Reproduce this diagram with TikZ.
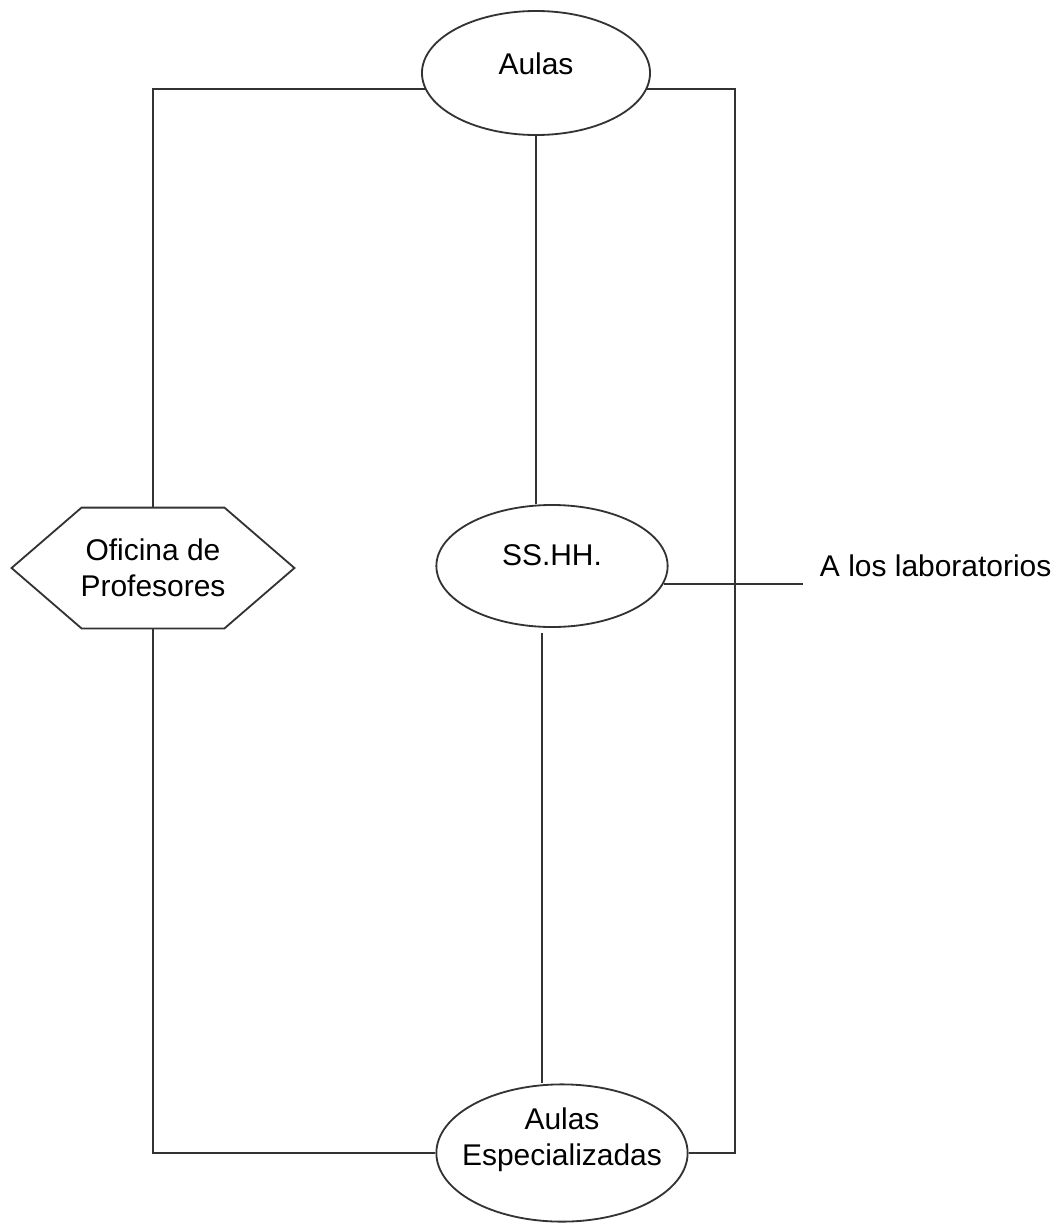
\documentclass[tikz,border=0pt]{standalone}
\usepackage{fontspec}
\setmainfont{Liberation Sans}
\usetikzlibrary{positioning}
\usetikzlibrary{shapes.geometric}
\usetikzlibrary{calc}

\begin{document}
\begin{tikzpicture}[
    x=0.025cm, y=-0.025cm,
    font=\fontsize{21.3pt}{25.6pt}\selectfont,
    room/.style = {
      draw=black!80, ellipse, line width=1.3pt,
      inner sep=0pt,
    },
    office/.style = {
      rectangle, minimum width=7.07cm, minimum height=3.02cm,
      inner sep=0pt, outer sep=0pt, align=center,
    },
    wire/.style = {draw=black!80, line width=1.3pt},
  ]
  \useasboundingbox (0,0) rectangle (1059,1230);

  \node[room, minimum width=5.7cm, minimum height=3.1cm] (aulas) at (536,73) {};
  \node (aulas-t) at ($(aulas)+(0,-9)$) {Aulas};

  \node[room, minimum width=5.78cm, minimum height=3.05cm] (sshh) at (552,566) {};
  \node (sshh-t) at ($(sshh)+(0,-11)$) {SS.HH.};

  \node[room, minimum width=6.28cm, minimum height=3.43cm] (esp) at (562,1153) {};
  \node[align=center] (esp-t) at ($(esp)+(0,-13)$) {Aulas\\Especializadas};

  \node[office] (ofi) at (153,568) {Oficina de\\Profesores};
  \draw[wire] (ofi.west) -- ($(ofi.north west)+(70,0)$)
    -- ($(ofi.north east)+(-70,0)$) -- (ofi.east)
    -- ($(ofi.south east)+(-70,0)$) -- ($(ofi.south west)+(70,0)$)
    -- cycle;

  \node[right] (lab) at (815,566) {A los laboratorios};
  \coordinate (lab-w) at (803,584);

  % outer ring
  \draw[wire] (ofi.north) |- (aulas.188);
  \coordinate (rail) at (735,600);
  \draw[wire] (aulas.-8) -| (rail) |- (esp.east);
  \draw[wire] (ofi.south) |- (esp.west);

  % middle column
  \draw[wire] (aulas.south) -- (aulas.south |- sshh.north);
  \coordinate (ss-b) at (542,633);
  \draw[wire] (ss-b) -- (ss-b |- esp.north);
  \draw[wire] (sshh.-9) -- (sshh.-9 -| lab-w);
\end{tikzpicture}
\end{document}
